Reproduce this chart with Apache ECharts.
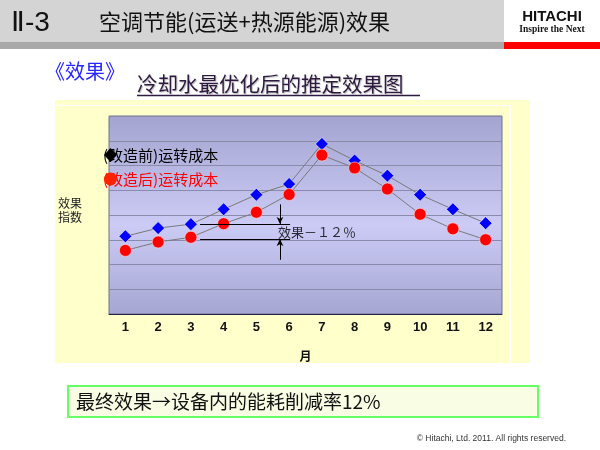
<!DOCTYPE html>
<html>
<head>
<meta charset="utf-8">
<script src="https://cdn.jsdelivr.net/npm/echarts@6/dist/echarts.min.js"></script>
<style>html,body{margin:0;padding:0;background:#fff;}#c{width:600px;height:450px;}</style>
</head>
<body>
<div id="c"></div>
<script>
// ---- data ----
var months = ['1','2','3','4','5','6','7','8','9','10','11','12'];
var beforeName = '(改造前)运转成本';
var afterName = '(改造后)运转成本';
var beforeValues = [3.14, 3.47, 3.63, 4.23, 4.82, 5.25, 6.87, 6.20, 5.59, 4.82, 4.23, 3.67];
var afterValues  = [2.57, 2.91, 3.10, 3.65, 4.11, 4.83, 6.42, 5.90, 5.05, 4.03, 3.44, 3.00];
// annotation (in axis units: x = month position, y = index value)
var annoText = '效果－１２％';
var annoTopY = 3.64, annoBottomY = 3.03;
var annoLineX = [3.28, 6.03];
var annoArrowX = 5.72;
var annoArrowFrom = [4.43, 2.19];
var annoTextPos = [5.66, 3.30];

var CJK = '"Noto Sans CJK SC", "Noto Sans", sans-serif';
var chart = echarts.init(document.getElementById('c'));

var option = {
  animation: false,
  backgroundColor: '#ffffff',
  graphic: [
    // header
    {type:'rect', shape:{x:0,y:0,width:504,height:42}, style:{fill:'#d4d4d4'}, z:0},
    {type:'rect', shape:{x:0,y:42,width:504,height:7}, style:{fill:'#a9a9a9'}, z:0},
    {type:'rect', shape:{x:504,y:42,width:96,height:7}, style:{fill:'#ff0000'}, z:0},
    {type:'text', left:11, top:9, style:{text:'Ⅱ-3', font:'28px "Liberation Sans", Arial, sans-serif', fill:'#111'}, z:1},
    {type:'text', left:99, top:11, style:{text:'空调节能(运送+热源能源)效果', font:'22px '+CJK, fill:'#111'}, z:1},
    {type:'text', x:552, y:17, style:{text:'HITACHI', font:'bold 15px "Liberation Sans", Arial, sans-serif', fill:'#111', align:'center', verticalAlign:'middle'}, z:1},
    {type:'text', x:552, y:30, style:{text:'Inspire the Next', font:'bold 9.5px "Liberation Serif", serif', fill:'#111', align:'center', verticalAlign:'middle'}, z:1},
    // sub titles
    {type:'text', x:45, y:71, style:{text:'《效果》', font:'20px '+CJK, fill:'#2626ff', verticalAlign:'middle'}, z:1},
    {type:'text', x:137, y:84, style:{text:'冷却水最优化后的推定效果图', font:'20.5px '+CJK, fill:'#2e1a40', verticalAlign:'middle', textShadowColor:'rgba(0,0,0,0.25)', textShadowOffsetX:1, textShadowOffsetY:1, textShadowBlur:1}, z:1},
    {type:'line', shape:{x1:137,y1:95.5,x2:420,y2:95.5}, style:{stroke:'#2e1a40', lineWidth:1.5}, z:1},
    // yellow panel
    {type:'rect', shape:{x:55,y:100,width:475,height:263}, style:{fill:'#ffffcc'}, z:-10},
    {type:'polyline', shape:{points:[[55,105.5],[510.5,105.5],[510.5,363]]}, style:{stroke:'#ffffff', lineWidth:1, fill:null}, z:-9},
    // y label
    {type:'text', x:58, y:203, style:{text:'效果', font:'12px '+CJK, fill:'#222', verticalAlign:'middle'}, z:1},
    {type:'text', x:58, y:217, style:{text:'指数', font:'12px '+CJK, fill:'#222', verticalAlign:'middle'}, z:1},
    // legend texts (markers drawn by legend on top)
    {type:'text', x:103, y:155, style:{text:beforeName, font:'15px '+CJK, fill:'#000', verticalAlign:'middle'}, z:5},
    {type:'text', x:103, y:179, style:{text:afterName, font:'15px '+CJK, fill:'#ff0000', verticalAlign:'middle'}, z:5},
    // bottom box
    {type:'rect', shape:{x:68,y:386,width:470,height:31}, style:{fill:'#f8fde4', stroke:'#66ff66', lineWidth:2}, z:1},
    {type:'text', x:76, y:402, style:{text:'最终效果→设备内的能耗削减率12%', font:'19px '+CJK, fill:'#111', verticalAlign:'middle'}, z:2},
    {type:'text', x:566, y:439, style:{text:'© Hitachi, Ltd. 2011. All rights reserved.', font:'8.5px "Liberation Sans", Arial, sans-serif', fill:'#333', align:'right', verticalAlign:'middle'}, z:2}
  ],
  legend: {
    orient: 'vertical', left: 104, top: 148, padding: 0, itemWidth: 13, itemHeight: 14, itemGap: 10,
    formatter: function(){ return ''; },
    textStyle: {fontSize: 1, padding: 0},
    selectedMode: false, z: 20,
    data: [
      {name: beforeName, icon: 'diamond', itemStyle: {color: '#000000', borderWidth: 0}},
      {name: afterName, icon: 'circle', itemStyle: {color: '#ff2200', borderWidth: 0}}
    ]
  },
  grid: {
    left: 109, right: 98, top: 116, bottom: 136, show: true,
    borderColor: '#6f6f99', borderWidth: 1,
    backgroundColor: {type:'linear', x:0, y:0, x2:0, y2:1, colorStops:[
      {offset:0, color:'#a4a4d0'}, {offset:0.55, color:'#cbcbf6'}, {offset:1, color:'#a6a6d2'}]}
  },
  xAxis: [
    {
      type: 'category', data: months, boundaryGap: true,
      axisLine: {lineStyle: {color: '#222244', width: 1}},
      axisTick: {inside: true, length: 5, lineStyle: {color: '#222244'}},
      axisLabel: {fontSize: 13, fontWeight: 'bold', color: '#111', margin: 7, fontFamily: '"Liberation Sans", Arial, sans-serif'},
      name: '月', nameLocation: 'middle', nameGap: 36,
      nameTextStyle: {fontSize: 12, fontWeight: 'bold', color: '#111', fontFamily: CJK}
    },
    {type: 'value', min: 0.5, max: 12.5, show: false}
  ],
  yAxis: {
    type: 'value', min: 0, max: 8, interval: 1,
    axisLine: {show: false}, axisTick: {show: false}, axisLabel: {show: false},
    splitLine: {lineStyle: {color: '#8a8aaa', width: 1}}
  },
  series: [
    {
      name: beforeName, type: 'line', data: beforeValues,
      symbol: 'diamond', symbolSize: 13, showAllSymbol: true,
      lineStyle: {color: '#7a7a7a', width: 1},
      itemStyle: {color: '#0000ff', borderColor: '#ffffff', borderWidth: 0.6},
      z: 3
    },
    {
      name: afterName, type: 'line', data: afterValues,
      symbol: 'circle', symbolSize: 12, showAllSymbol: true,
      lineStyle: {color: '#7a7a7a', width: 1},
      itemStyle: {color: '#ff0000', borderColor: '#ffdddd', borderWidth: 0.6},
      z: 4
    },
    {
      name: 'annotation', type: 'scatter', xAxisIndex: 1, silent: true,
      data: [annoTextPos], symbolSize: 0,
      label: {show: true, position: 'right', distance: 0, formatter: annoText,
              fontSize: 13, color: '#000', fontFamily: '"Noto Sans CJK JP", sans-serif'},
      markLine: {
        silent: true, symbol: ['none', 'none'], label: {show: false},
        lineStyle: {color: '#000', width: 1, type: 'solid'},
        data: [
          [{coord: [annoLineX[0], annoTopY]}, {coord: [annoLineX[1], annoTopY]}],
          [{coord: [annoLineX[0], annoBottomY]}, {coord: [annoLineX[1], annoBottomY]}],
          [{coord: [annoArrowX, annoArrowFrom[0]], symbol: 'none'}, {coord: [annoArrowX, annoTopY], symbol: 'arrow', symbolSize: [5, 7]}],
          [{coord: [annoArrowX, annoArrowFrom[1]], symbol: 'none'}, {coord: [annoArrowX, annoBottomY], symbol: 'arrow', symbolSize: [5, 7]}]
        ]
      },
      z: 2
    }
  ]
};
chart.setOption(option);
</script>
</body>
</html>
